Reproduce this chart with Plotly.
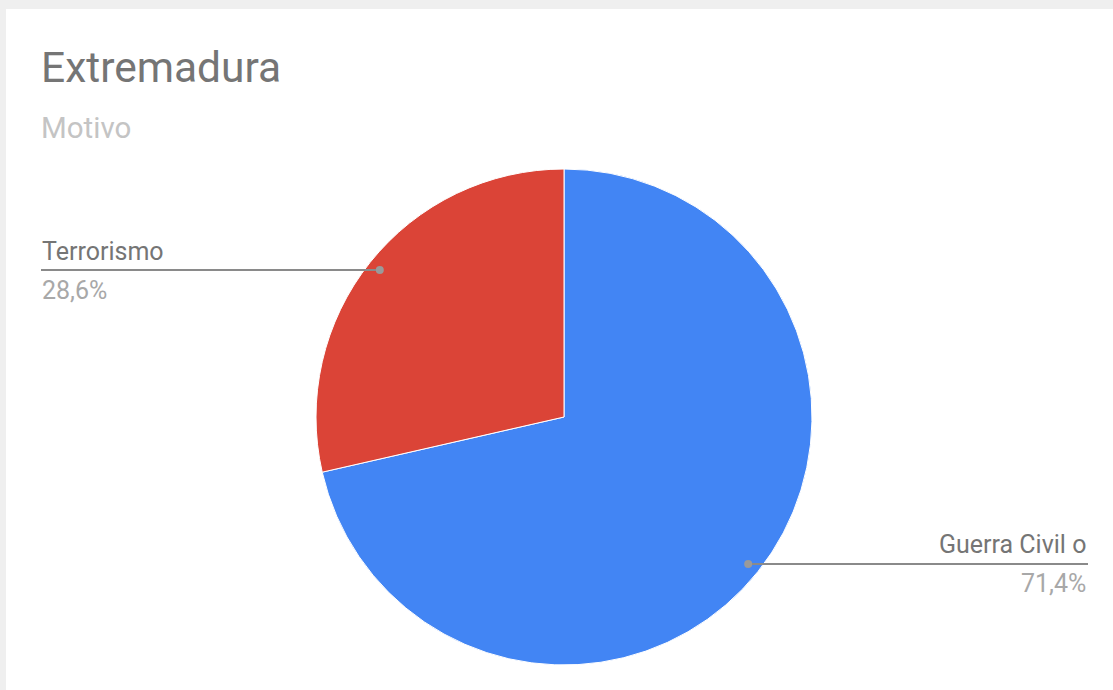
import math
import plotly.graph_objects as go

labels = ["Guerra Civil o", "Terrorismo"]
values = [5, 2]
colors = ["#4285F4", "#DB4437"]
title_text = "Extremadura"
subtitle_text = "Motivo"

W, H = 1113, 690
cx, cy, R = 564, 417, 248  # pie center/radius in px


def px(x):
    return x / W


def py(y):
    return (H - y) / H


fig = go.Figure(go.Pie(
    labels=labels, values=values, sort=False, direction="clockwise", rotation=0,
    marker=dict(colors=colors, line=dict(color="white", width=1)),
    textinfo="none", hoverinfo="label+percent", showlegend=False,
    domain=dict(x=[px(cx - R), px(cx + R)], y=[py(cy + R), py(cy - R)]),
))

shapes = [
    dict(type="rect", xref="paper", yref="paper", x0=px(6), x1=px(W + 10), y0=py(H + 10), y1=py(9),
         fillcolor="white", line=dict(width=0), layer="below"),
]
annotations = [
    dict(text=title_text, x=px(39), y=py(68), xref="paper", yref="paper", xanchor="left", yanchor="middle",
         showarrow=False, font=dict(size=42.5, color="#757575")),
    dict(text=subtitle_text, x=px(39), y=py(128), xref="paper", yref="paper", xanchor="left", yanchor="middle",
         showarrow=False, font=dict(size=29.5, color="#c4c4c4")),
]

total = sum(values)
start = 0.0
for lab, v in zip(labels, values):
    frac = v / total
    mid = (start + frac / 2) * 2 * math.pi
    start += frac
    dx, dy = math.sin(mid), -math.cos(mid)
    dotx, doty = cx + 0.95 * R * dx, cy + 0.95 * R * dy
    if dx < 0:
        endx, anchor = 41, "left"
    else:
        endx, anchor = 1088, "right"
    shapes.append(dict(type="line", xref="paper", yref="paper", x0=px(dotx), x1=px(endx), y0=py(doty), y1=py(doty),
                       line=dict(color="#8a8a8a", width=2)))
    shapes.append(dict(type="circle", xref="paper", yref="paper", x0=px(dotx - 4), x1=px(dotx + 4),
                       y0=py(doty + 4), y1=py(doty - 4), fillcolor="#9a9a9a", line=dict(width=0)))
    pct = f"{frac * 100:.1f}".replace(".", ",") + "%"
    annotations.append(dict(text=lab, x=px(endx - 1 if anchor == "left" else endx), y=py(doty - 19),
                            xref="paper", yref="paper", xanchor=anchor,
                            yanchor="middle", showarrow=False, font=dict(size=25, color="#757575")))
    annotations.append(dict(text=pct, x=px(endx - 1 if anchor == "left" else endx), y=py(doty + 20),
                            xref="paper", yref="paper", xanchor=anchor,
                            yanchor="middle", showarrow=False, font=dict(size=25, color="#a8a8a8")))

fig.update_layout(
    width=W, height=H, margin=dict(l=0, r=0, t=0, b=0),
    paper_bgcolor="#efefef", plot_bgcolor="white",
    font=dict(family="Roboto, Arial, sans-serif"),
    shapes=shapes, annotations=annotations,
)
fig.write_html("out.html", config={"displayModeBar": False},
               post_script="document.body.style.margin='0';document.body.style.overflow='hidden';")
